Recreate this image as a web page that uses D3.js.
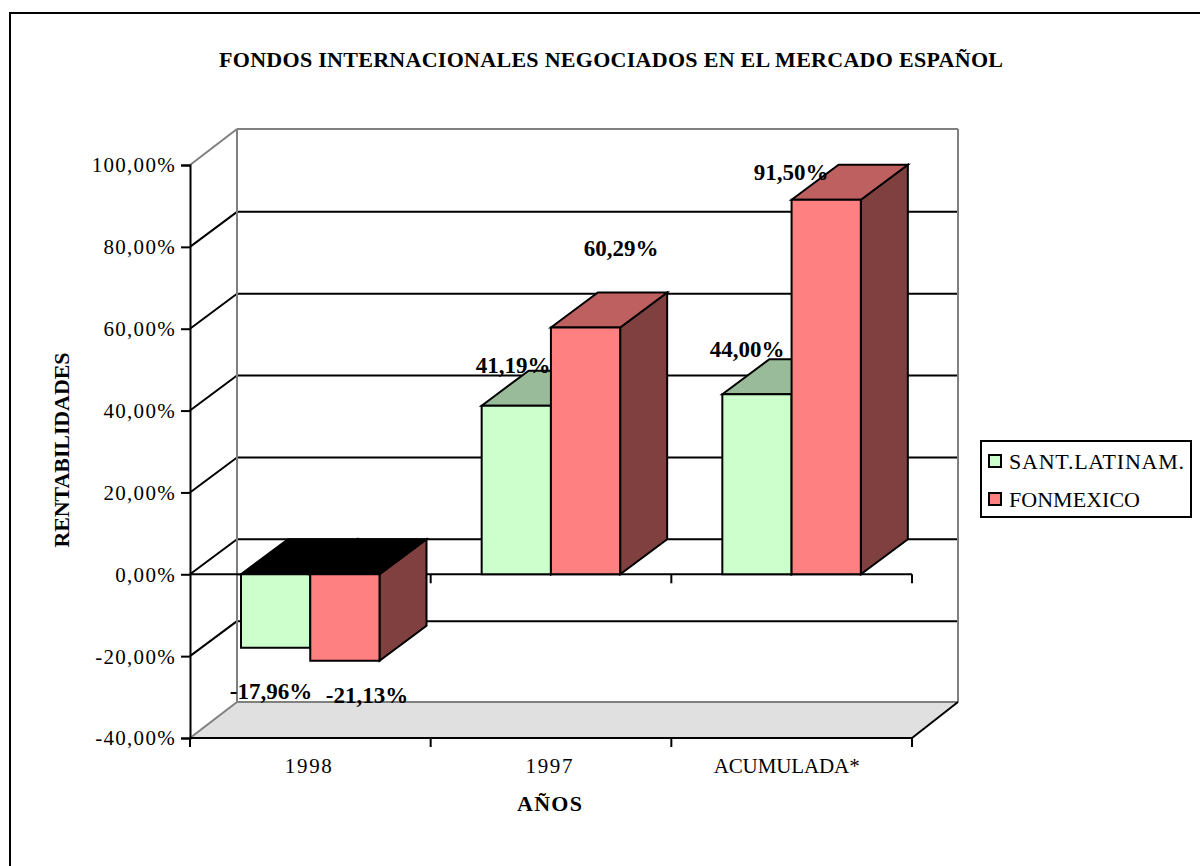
<!DOCTYPE html>
<html><head><meta charset="utf-8">
<script src="https://cdn.jsdelivr.net/npm/d3@7"></script>
<style>html,body{margin:0;padding:0;background:#fff}svg{display:block}text{font-family:"Liberation Serif",serif;fill:#000}</style>
</head><body><svg id="c" width="1200" height="866"></svg>
<script>
const titleText = "FONDOS INTERNACIONALES NEGOCIADOS EN EL MERCADO ESPAÑOL";
const yTitle = "RENTABILIDADES";
const xTitle = "AÑOS";
const categories = ["1998", "1997", "ACUMULADA*"];
const seriesNames = ["SANT.LATINAM.", "FONMEXICO"];
const santLatinam = [-17.96, 41.19, 44.00];
const fonmexico = [-21.13, 60.29, 91.50];
const yTicks = [-40, -20, 0, 20, 40, 60, 80, 100];
const labelsA = ["-17,96%", "41,19%", "44,00%"];
const labelsB = ["-21,13%", "60,29%", "91,50%"];

const svg = d3.select("#c");
const W = {x0: 190, x1: 912, y0: 738, y1: 165, dx: 47, dy: -36};
const gridDy = -35;
const y = d3.scaleLinear().domain([-40, 100]).range([W.y0, W.y1]);
const x = d3.scaleBand().domain(categories).range([W.x0, W.x1]);
const x1 = d3.scaleBand().domain([0, 1]).range([0, 138.5]);
const barOffset = 51;
const colors = [
  {front: "#ccffcc", top: "#99bb99", side: "#668866"},
  {front: "#ff8080", top: "#bf6060", side: "#804040"}
];
const poly = (pts, fill, stroke, sw) => svg.append("polygon")
  .attr("points", pts.map(p => p.join(",")).join(" "))
  .attr("fill", fill).attr("stroke", stroke || "none").attr("stroke-width", sw || 0)
  .attr("stroke-linejoin", "miter");
const line = (a, b, stroke, sw) => svg.append("line")
  .attr("x1", a[0]).attr("y1", a[1]).attr("x2", b[0]).attr("y2", b[1])
  .attr("stroke", stroke).attr("stroke-width", sw);

// outer frame
svg.append("rect").attr("x", 10).attr("y", 13).attr("width", 1300).attr("height", 1000)
  .attr("fill", "#fff").attr("stroke", "#000").attr("stroke-width", 2);

// title
svg.append("text").attr("x", 219).attr("y", 67).attr("font-size", 22).attr("font-weight", "bold")
  .attr("textLength", 784).attr("lengthAdjust", "spacing").text(titleText);

// floor
poly([[W.x0, W.y0], [W.x0 + W.dx, W.y0 + W.dy], [W.x1 + W.dx - 1, W.y0 + W.dy], [W.x1, W.y0]], "#e0e0e0");

// gridlines on back and side wall
yTicks.forEach(t => {
  if (t === -40) return;
  const py = y(t);
  if (t === 100) { line([W.x0, py], [W.x0 + W.dx, py + W.dy], "#808080", 2); return; }
  line([W.x0, py], [W.x0 + W.dx, py + gridDy], "#000", 2);
  line([W.x0 + W.dx, py + gridDy], [W.x1 + W.dx - 1, py + gridDy], "#000", 2);
});

// walls
const gray = "#808080";
line([W.x0 + W.dx, y(100) + W.dy], [W.x0 + W.dx, W.y0 + W.dy], gray, 2);
line([W.x0 + W.dx, y(100) + W.dy], [W.x1 + W.dx - 1, y(100) + W.dy], gray, 2);
line([W.x1 + W.dx - 1, y(100) + W.dy], [W.x1 + W.dx - 1, W.y0 + W.dy], gray, 2);
line([W.x0 + W.dx, W.y0 + W.dy], [W.x1 + W.dx - 1, W.y0 + W.dy], gray, 2);
line([W.x0, W.y0], [W.x0 + W.dx, W.y0 + W.dy], gray, 2);
line([W.x1, W.y0], [W.x1 + W.dx - 1, W.y0 + W.dy], "#000", 2);

// zero axis + axes
line([W.x0, y(0)], [W.x1, y(0)], "#000", 2);
const axisY = d3.axisLeft(y).tickValues(yTicks).tickSize(9)
  .tickFormat(d => d.toFixed(2).replace(".", ",") + "%");
const gy = svg.append("g").attr("transform", `translate(${W.x0},0)`).call(axisY);
gy.selectAll("path,line").attr("stroke", "#000").attr("stroke-width", 2);
gy.selectAll("text").attr("font-size", 21).attr("font-family", '"Liberation Serif",serif')
  .attr("letter-spacing", 1.3).attr("x", -14).attr("dy", "0.33em");

const catLen = [47, 47, 146];
const catDx = [-2, -2, -5];
const axisX = d3.axisBottom(x).tickSize(0);
const gx = svg.append("g").attr("transform", `translate(0,${W.y0})`).call(axisX);
gx.select("path").remove();
gx.selectAll("text").attr("font-size", 21).attr("font-family", '"Liberation Serif",serif')
  .attr("y", 20).attr("dy", "0.71em")
  .attr("dx", (d, i) => catDx[i])
  .attr("textLength", (d, i) => catLen[i]).attr("lengthAdjust", "spacing");
line([W.x0, W.y0], [W.x1, W.y0], "#000", 2);
[W.x0, ...categories.map(c => x(c) + x.bandwidth())].forEach(px => {
  line([px, W.y0], [px, W.y0 + 9], "#000", 2);
  if (px !== W.x0) line([px, y(0)], [px, y(0) + 9], "#000", 2);
});

// bars
const bw = x1.bandwidth(), bdx = 47, bdy = -35;
[santLatinam, fonmexico].forEach((vals, s) => {
  vals.forEach((v, i) => {
    const xl = x(categories[i]) + barOffset + x1(s), xr = xl + bw;
    const yv = y(v), y0 = y(0);
    const hi = Math.min(yv, y0), lo = Math.max(yv, y0);
    const c = colors[s];
    poly([[xr, hi], [xr + bdx, hi + bdy], [xr + bdx, lo + bdy], [xr, lo]], c.side, "#000", 2);
    poly([[xl, hi], [xl + bdx, hi + bdy], [xr + bdx, hi + bdy], [xr, hi]], v < 0 ? "#000" : c.top, "#000", 2);
    poly([[xl, hi], [xr, hi], [xr, lo], [xl, lo]], c.front, "#000", 2);
  });
});

// data labels
const lbl = (t, px, py) => svg.append("text").attr("x", px).attr("y", py).attr("font-size", 23)
  .attr("font-weight", "bold").attr("text-anchor", "middle").text(t);
const labelPos = [[[271, 699], [367, 703]], [[513, 373], [621, 256]], [[747, 357], [791, 180]]];
categories.forEach((c, i) => {
  lbl(labelsA[i], labelPos[i][0][0], labelPos[i][0][1]);
  lbl(labelsB[i], labelPos[i][1][0], labelPos[i][1][1]);
});

// axis titles
svg.append("text").attr("x", 549.5).attr("y", 811).attr("text-anchor", "middle").attr("font-size", 22)
  .attr("font-weight", "bold").attr("textLength", 65).attr("lengthAdjust", "spacing").text(xTitle);
svg.append("text").attr("transform", "translate(69,450) rotate(-90)").attr("text-anchor", "middle")
  .attr("font-size", 22).attr("font-weight", "bold").attr("textLength", 195).attr("lengthAdjust", "spacing").text(yTitle);

// legend
svg.append("rect").attr("x", 981).attr("y", 441).attr("width", 210).attr("height", 76)
  .attr("fill", "#fff").attr("stroke", "#000").attr("stroke-width", 2);
seriesNames.forEach((n, i) => {
  const cy = 461 + i * 38;
  svg.append("rect").attr("x", 989).attr("y", cy - 6).attr("width", 12).attr("height", 12)
    .attr("fill", colors[i].front).attr("stroke", "#000").attr("stroke-width", 2);
  svg.append("text").attr("x", 1009).attr("y", cy + 8).attr("font-size", 22)
    .attr("textLength", i === 0 ? 175 : 131).attr("lengthAdjust", "spacing").text(n);
});
</script></body></html>
